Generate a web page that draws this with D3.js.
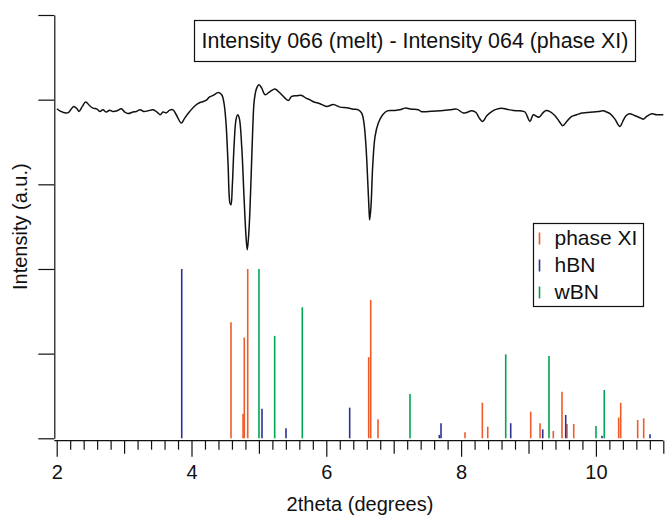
<!DOCTYPE html>
<html>
<head>
<meta charset="utf-8">
<script src="https://cdn.jsdelivr.net/npm/d3@7"></script>
<style>
  body { margin: 0; background: #fff; }
  text { font-family: "Liberation Sans", Arial, sans-serif; fill: #111; }
</style>
</head>
<body>
<svg id="chart" width="665" height="515"></svg>
<script>
// difference curve: 2theta (degrees) and intensity (same a.u. as sticks)
var diffTheta = [2.004, 2.045, 2.142, 2.182, 2.252, 2.301, 2.331, 2.380, 2.430, 2.490, 2.539, 2.598, 2.638, 2.687, 2.736, 2.786, 2.835, 2.895, 2.958, 3.009,
	3.058, 3.132, 3.181, 3.240, 3.291, 3.355, 3.429, 3.488, 3.537, 3.577, 3.626, 3.677, 3.726, 3.774, 3.849, 3.899, 3.973,
	4.052, 4.126, 4.175, 4.226, 4.264, 4.323, 4.398, 4.448, 4.482, 4.512, 4.542, 4.571, 4.586, 4.605, 4.631, 4.660, 4.685, 4.709,
	4.745, 4.779, 4.809, 4.828, 4.853, 4.883, 4.908, 4.932, 4.967, 5.001, 5.042, 5.091, 5.165, 5.239, 5.313, 5.387, 5.436, 5.487,
	5.561, 5.635, 5.699, 5.758, 5.807, 5.906, 6.006, 6.104, 6.203, 6.303, 6.401, 6.475, 6.525, 6.559, 6.589, 6.614, 6.634, 6.644,
	6.663, 6.688, 6.723, 6.772, 6.837, 6.905, 6.994, 7.093, 7.168, 7.267, 7.365, 7.415, 7.513, 7.638, 7.736, 7.835, 7.935, 8.033,
	8.083, 8.157, 8.221, 8.270, 8.321, 8.380, 8.454, 8.528, 8.602, 8.677, 8.774, 8.874, 8.948, 8.982, 9.022, 9.071, 9.122, 9.160,
	9.211, 9.260, 9.319, 9.393, 9.457, 9.507, 9.567, 9.641, 9.715, 9.789, 9.864, 9.961, 10.036, 10.110, 10.160, 10.209, 10.283,
	10.332, 10.358, 10.398, 10.447, 10.496, 10.580, 10.665, 10.703, 10.754, 10.828, 10.902, 11.000];
var diffValue = [194.6, 193.4, 192.1, 192.7, 196.0, 194.6, 193.0, 196.0, 198.6, 196.4, 195.0, 194.4, 193.0, 194.0, 192.7, 193.8, 193.0, 193.4, 194.6, 192.7,
	191.8, 192.7, 193.0, 194.0, 193.0, 193.4, 194.0, 192.7, 191.1, 192.7, 192.2, 193.8, 194.0, 191.1, 186.2, 189.1, 193.0,
	196.4, 198.3, 198.9, 199.9, 201.5, 202.5, 204.2, 202.9, 198.0, 186.2, 162.5, 138.9, 137.9, 148.7, 172.3, 188.1, 191.1, 189.1,
	172.3, 142.8, 119.1, 111.3, 123.1, 152.6, 182.2, 199.9, 206.8, 208.8, 206.8, 202.9, 204.8, 206.3, 203.9, 200.9, 199.5, 201.9,
	202.3, 202.5, 200.9, 199.9, 198.8, 197.6, 196.0, 197.1, 195.6, 195.2, 194.4, 194.0, 192.1, 186.2, 172.3, 152.6, 134.9, 129.0,
	136.9, 160.5, 178.2, 186.2, 191.1, 193.4, 193.6, 194.0, 195.0, 194.4, 194.0, 192.9, 193.0, 193.3, 193.6, 194.0, 194.4, 192.1,
	192.4, 193.4, 192.4, 189.1, 187.1, 190.5, 193.0, 194.4, 195.0, 194.4, 193.6, 193.4, 192.7, 190.1, 187.1, 191.1, 190.1, 189.7,
	192.1, 193.6, 192.9, 190.5, 187.1, 184.6, 187.1, 190.1, 191.1, 192.1, 192.4, 192.7, 193.0, 193.4, 192.7, 191.7, 188.5,
	185.1, 184.1, 187.1, 190.5, 191.7, 190.5, 189.1, 188.5, 190.1, 191.7, 191.1, 191.1];

// reference peak positions (2theta) and relative intensities
var phaseXITheta = [4.586, 4.765, 4.783, 4.834, 6.629, 6.659, 6.767, 8.058, 8.315, 8.395, 9.033, 9.171, 9.368, 9.497, 9.571, 9.671, 10.338, 10.368, 10.620, 10.709];
var phaseXIInt   = [68.6, 14.5, 59.5, 100, 47.9, 81.7, 11.2, 3.5, 21.0, 6.9, 15.7, 8.9, 4.3, 27.5, 8.5, 8.5, 12.2, 21.0, 10.8, 11.8];
var hBNTheta = [3.855, 5.046, 5.402, 6.347, 7.677, 7.702, 8.736, 9.211, 9.552, 10.090, 10.803];
var hBNInt   = [100, 17.5, 5.9, 18.1, 2.0, 8.9, 8.9, 5.3, 13.8, 1.5, 2.4];
var wBNTheta = [5.001, 5.234, 5.644, 7.242, 8.662, 9.304, 10.001, 10.124];
var wBNInt   = [100, 60.5, 77.4, 26.2, 49.6, 48.6, 7.3, 28.5];

var seriesNames = ['phase XI', 'hBN', 'wBN'];
var seriesColors = ['#f15a29', '#2e3192', '#00a651'];

var xTicksMajor = [2, 4, 6, 8, 10];
var yTicks = [0, 50, 100, 150, 200, 250];

var svg = d3.select('#chart');

var scaleX = d3.scaleLinear().domain([2, 11]).range([56.7, 663.3]);
var scaleY = d3.scaleLinear().domain([0, 250]).range([438.3, 15]);
var yAxisX = 54.3, xAxisY = 440.7;

// sticks
var sticks = [
	{ name: seriesNames[0], color: seriesColors[0], theta: phaseXITheta, inten: phaseXIInt },
	{ name: seriesNames[1], color: seriesColors[1], theta: hBNTheta, inten: hBNInt },
	{ name: seriesNames[2], color: seriesColors[2], theta: wBNTheta, inten: wBNInt }
];
sticks.forEach(function (s) {
	var d = s.theta.map(function (t, i) { return { x: t, y: s.inten[i] }; });
	svg.append('g').selectAll('line').data(d).enter().append('line')
		.attr('x1', function (p) { return scaleX(p.x); })
		.attr('x2', function (p) { return scaleX(p.x); })
		.attr('y1', scaleY(0))
		.attr('y2', function (p) { return scaleY(p.y); })
		.attr('stroke', s.color)
		.attr('stroke-width', 1.6);
});

// difference curve
var diff = diffTheta.map(function (t, i) { return { x: t, y: diffValue[i] }; });
var line = d3.line()
	.x(function (d) { return scaleX(d.x); })
	.y(function (d) { return scaleY(d.y); })
	.curve(d3.curveCatmullRom.alpha(0.5));
svg.append('path')
	.datum(diff)
	.attr('fill', 'none')
	.attr('stroke', '#111')
	.attr('stroke-width', 1.5)
	.attr('stroke-linejoin', 'round')
	.attr('d', line);

// y axis (no labels)
var yAx = svg.append('g')
	.attr('transform', 'translate(' + yAxisX + ',0)')
	.call(d3.axisLeft(scaleY).tickValues(yTicks).tickSize(16).tickSizeOuter(0).tickFormat(''));
yAx.selectAll('line, path').attr('stroke', '#111').attr('stroke-width', 1.2);

// x axis: minor ticks every 0.2, medium at odd integers, labels at even
var minor = d3.range(0, 46).map(function (i) { return +(2 + i * 0.2).toFixed(1); })
	.filter(function (v) { return Math.abs(v - Math.round(v)) > 1e-6; });
var odd = [3, 5, 7, 9, 11];

function xAxisLayer(values, size, fmt) {
	var g = svg.append('g')
		.attr('transform', 'translate(0,' + xAxisY + ')')
		.call(d3.axisBottom(scaleX).tickValues(values).tickSize(size).tickSizeOuter(0).tickFormat(fmt));
	g.select('.domain').remove();
	g.selectAll('line').attr('stroke', '#111').attr('stroke-width', 1.2);
	return g;
}
xAxisLayer(minor, 9, '');
xAxisLayer(odd, 13, '');
var major = xAxisLayer(xTicksMajor, 16, d3.format('d'));
major.selectAll('text')
	.attr('y', 38)
	.attr('dy', 0)
	.style('font-size', '20px')
	.style('font-family', '"Liberation Sans", Arial, sans-serif')
	.attr('fill', '#111');

svg.append('line')
	.attr('x1', yAxisX).attr('x2', scaleX(11))
	.attr('y1', xAxisY).attr('y2', xAxisY)
	.attr('stroke', '#111').attr('stroke-width', 1.2);

// axis titles
svg.append('text')
	.attr('x', (scaleX.range()[0] + scaleX.range()[1]) / 2)
	.attr('y', 511)
	.attr('text-anchor', 'middle')
	.style('font-size', '20px')
	.text('2theta (degrees)');

svg.append('text')
	.attr('transform', 'translate(27,' + (scaleY.range()[0] + scaleY.range()[1]) / 2 + ') rotate(-90)')
	.attr('text-anchor', 'middle')
	.style('font-size', '20px')
	.text('Intensity (a.u.)');

// annotation box
var title = svg.append('g');
title.append('rect')
	.attr('x', 194.5).attr('y', 20.5).attr('width', 441).attr('height', 41)
	.attr('fill', '#fff').attr('stroke', '#111').attr('stroke-width', 1.2);
title.append('text')
	.attr('x', 194.5 + 441 / 2).attr('y', 47.5)
	.attr('text-anchor', 'middle')
	.style('font-size', '21.4px')
	.text('Intensity 066 (melt) - Intensity 064 (phase XI)');

// legend
var legend = svg.append('g').attr('transform', 'translate(533.5,223.5)');
legend.append('rect')
	.attr('width', 110).attr('height', 83)
	.attr('fill', '#fff').attr('stroke', '#111').attr('stroke-width', 1.2);
sticks.forEach(function (s, i) {
	var row = legend.append('g').attr('transform', 'translate(0,' + (i * 27) + ')');
	row.append('line')
		.attr('x1', 6).attr('x2', 6).attr('y1', 9).attr('y2', 21)
		.attr('stroke', s.color).attr('stroke-width', 1.6);
	row.append('text')
		.attr('x', 21).attr('y', 21)
		.style('font-size', '21px')
		.text(s.name);
});
</script>
</body>
</html>
